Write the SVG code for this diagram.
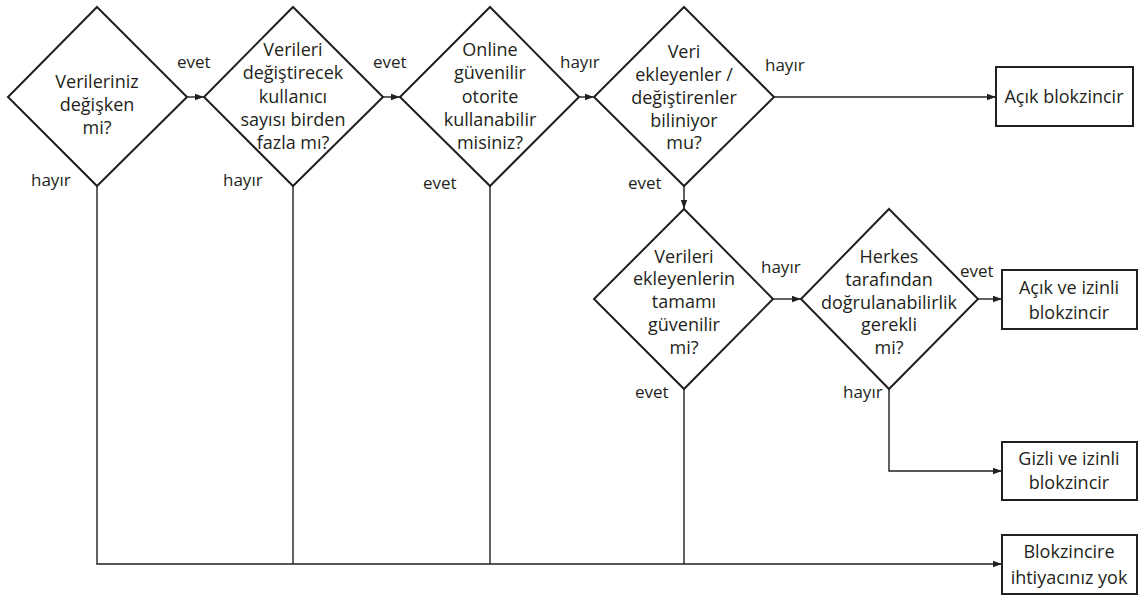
<svg xmlns="http://www.w3.org/2000/svg" width="1141" height="598" viewBox="0 0 1141 598">
  <style>
    .shape { fill: #ffffff; stroke: #231f20; stroke-width: 2; }
    .link { fill: none; stroke: #231f20; stroke-width: 1.4; }
    .t { font-family: "Open Sans", "Liberation Sans", sans-serif; font-size: 18px; fill: #231f20; text-anchor: middle; }
    .lbl { font-family: "Open Sans", "Liberation Sans", sans-serif; font-size: 17px; fill: #231f20; }
  </style>
  <defs>
    <marker id="arrow" markerUnits="userSpaceOnUse" markerWidth="10" markerHeight="8" refX="9" refY="4" orient="auto">
      <path d="M0,0.8 L9,4 L0,7.2 Z" fill="#231f20"/>
    </marker>
  </defs>
  <rect width="1141" height="598" fill="#ffffff"/>

  <!-- connectors -->
  <g id="connectors">
    <line class="link" x1="187" y1="97" x2="204" y2="97" marker-end="url(#arrow)"/>
    <line class="link" x1="383" y1="97" x2="400" y2="97" marker-end="url(#arrow)"/>
    <line class="link" x1="579" y1="97" x2="594" y2="97" marker-end="url(#arrow)"/>
    <line class="link" x1="774" y1="97" x2="996" y2="97" marker-end="url(#arrow)"/>
    <line class="link" x1="684" y1="186" x2="684" y2="209" marker-end="url(#arrow)"/>
    <line class="link" x1="773" y1="299" x2="801" y2="299" marker-end="url(#arrow)"/>
    <line class="link" x1="978" y1="299" x2="1002" y2="299" marker-end="url(#arrow)"/>
    <polyline class="link" points="889,389 889,471 1002,471" marker-end="url(#arrow)"/>
    <polyline class="link" points="97,186 97,564 1002,564" marker-end="url(#arrow)"/>
    <line class="link" x1="293" y1="186" x2="293" y2="564"/>
    <line class="link" x1="490" y1="186" x2="490" y2="564"/>
    <line class="link" x1="684" y1="389" x2="684" y2="564"/>

    <text class="lbl" x="177" y="68">evet</text>
    <text class="lbl" x="31" y="186">hayır</text>
    <text class="lbl" x="373" y="68">evet</text>
    <text class="lbl" x="223" y="186">hayır</text>
    <text class="lbl" x="560" y="68">hayır</text>
    <text class="lbl" x="423" y="189">evet</text>
    <text class="lbl" x="765" y="71">hayır</text>
    <text class="lbl" x="628" y="189">evet</text>
    <text class="lbl" x="761" y="273">hayır</text>
    <text class="lbl" x="960" y="277">evet</text>
    <text class="lbl" x="635" y="398">evet</text>
    <text class="lbl" x="843" y="398">hayır</text>
  </g>

  <!-- decision nodes -->
  <g id="d1">
    <polygon class="shape" points="97,7 187,97 97,186 8,97"/>
    <text class="t" x="97" y="88">Verileriniz</text>
    <text class="t" x="97" y="111">değişken</text>
    <text class="t" x="97" y="134">mi?</text>
  </g>
  <g id="d2">
    <polygon class="shape" points="293,7 383,97 293,186 204,97"/>
    <text class="t" x="293" y="56">Verileri</text>
    <text class="t" x="293" y="79">değiştirecek</text>
    <text class="t" x="293" y="103">kullanıcı</text>
    <text class="t" x="293" y="126">sayısı birden</text>
    <text class="t" x="293" y="149">fazla mı?</text>
  </g>
  <g id="d3">
    <polygon class="shape" points="490,7 579,97 490,186 400,97"/>
    <text class="t" x="490" y="56">Online</text>
    <text class="t" x="490" y="79">güvenilir</text>
    <text class="t" x="490" y="103">otorite</text>
    <text class="t" x="490" y="126">kullanabilir</text>
    <text class="t" x="490" y="149">misiniz?</text>
  </g>
  <g id="d4">
    <polygon class="shape" points="684,7 774,97 684,186 594,97"/>
    <text class="t" x="684" y="58">Veri</text>
    <text class="t" x="684" y="81">ekleyenler /</text>
    <text class="t" x="684" y="104">değiştirenler</text>
    <text class="t" x="684" y="127">biliniyor</text>
    <text class="t" x="684" y="149">mu?</text>
  </g>
  <g id="d5">
    <polygon class="shape" points="684,209 773,299 684,389 594,299"/>
    <text class="t" x="684" y="263">Verileri</text>
    <text class="t" x="684" y="285">ekleyenlerin</text>
    <text class="t" x="684" y="308">tamamı</text>
    <text class="t" x="684" y="331">güvenilir</text>
    <text class="t" x="684" y="354">mi?</text>
  </g>
  <g id="d6">
    <polygon class="shape" points="889,209 978,299 889,389 801,299"/>
    <text class="t" x="889" y="263">Herkes</text>
    <text class="t" x="889" y="286">tarafından</text>
    <text class="t" x="889" y="309">doğrulanabilirlik</text>
    <text class="t" x="889" y="331">gerekli</text>
    <text class="t" x="889" y="354">mi?</text>
  </g>

  <!-- outcome nodes -->
  <g id="r1">
    <rect class="shape" x="996" y="67" width="137" height="59"/>
    <text class="t" x="1064" y="103">Açık blokzincir</text>
  </g>
  <g id="r2">
    <rect class="shape" x="1002" y="270" width="135" height="59"/>
    <text class="t" x="1069" y="294">Açık ve izinli</text>
    <text class="t" x="1069" y="319">blokzincir</text>
  </g>
  <g id="r3">
    <rect class="shape" x="1002" y="442" width="135" height="58"/>
    <text class="t" x="1069" y="465">Gizli ve izinli</text>
    <text class="t" x="1069" y="489">blokzincir</text>
  </g>
  <g id="r4">
    <rect class="shape" x="1002" y="535" width="135" height="59"/>
    <text class="t" x="1069" y="558">Blokzincire</text>
    <text class="t" x="1069" y="584">ihtiyacınız yok</text>
  </g>
</svg>
